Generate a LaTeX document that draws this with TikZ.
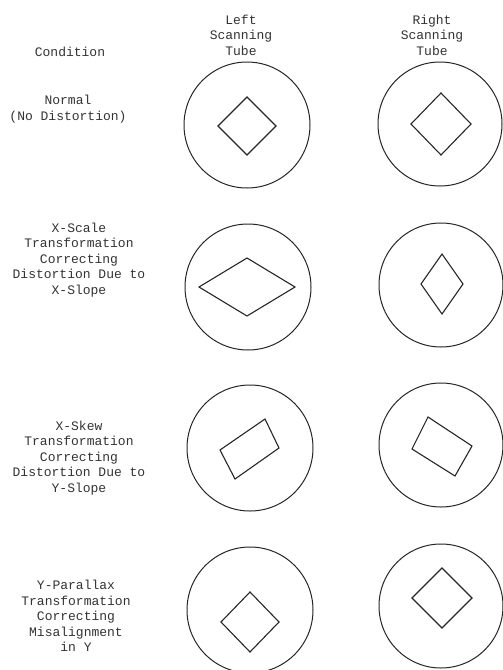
\documentclass[tikz,border=0pt]{standalone}
\usepackage{fontspec}
\setmonofont{Liberation Mono}
\begin{document}
\begin{tikzpicture}[x=1pt,y=-1pt,
  lbl/.style={font=\ttfamily\fontsize{13}{15.5}\selectfont, align=center, text=black!80, inner sep=0pt},
  tube/.style={circle, draw=black!85, line width=1pt, inner sep=0pt, minimum size=#1},
  shp/.style={draw=black!85, line width=1.1pt, line join=miter}]
\useasboundingbox (0,0) rectangle (503,670);
\clip (0,0) rectangle (503,670);
% headers
\node[lbl] (hcond) at (70,52) {Condition};
\node[lbl] (hleft) at (241,35) {Left\\Scanning\\Tube};
\node[lbl] (hright) at (432,35) {Right\\Scanning\\Tube};
% condition labels
\node[lbl] (c1) at (68,109) {Normal\\(No Distortion)};
\node[lbl] (c2) at (79,260) {X-Scale\\Transformation\\Correcting\\Distortion Due to\\X-Slope};
\node[lbl] (c3) at (79,458) {X-Skew\\Transformation\\Correcting\\Distortion Due to\\Y-Slope};
\node[lbl] (c4) at (76,616) {Y-Parallax\\Transformation\\Correcting\\Misalignment\\in Y};
% row 1
\node[tube=126pt] (l1) at (247,125) {};
\node[tube=124pt] (r1) at (440,124) {};
\draw[shp] (218,126) -- (247,97) -- (276,126) -- (247,155) -- cycle;
\draw[shp] (411,124) -- (441,93) -- (471,124) -- (441,155) -- cycle;
% row 2
\node[tube=126pt] (l2) at (248,287) {};
\node[tube=124pt] (r2) at (441,285) {};
\draw[shp] (199,287) -- (247,258) -- (295,287) -- (247,316) -- cycle;
\draw[shp] (421,284) -- (442,254) -- (463,284) -- (442,314) -- cycle;
% row 3
\node[tube=126pt] (l3) at (250,448) {};
\node[tube=124pt] (r3) at (441,445) {};
\draw[shp] (220,450) -- (265,419) -- (279,448) -- (235,479) -- cycle;
\draw[shp] (412,449) -- (428,417) -- (472,446) -- (455,476) -- cycle;
% row 4
\node[tube=126pt] (l4) at (250,610) {};
\node[tube=124pt] (r4) at (441,606) {};
\draw[shp] (221,622) -- (250,592) -- (279,622) -- (250,652) -- cycle;
\draw[shp] (412,598) -- (442,568) -- (472,598) -- (442,628) -- cycle;
\end{tikzpicture}
\end{document}
